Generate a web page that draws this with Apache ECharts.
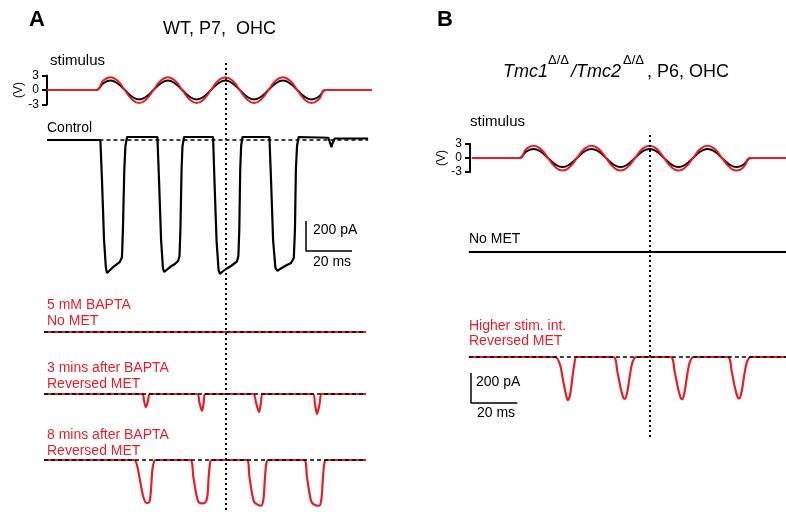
<!DOCTYPE html>
<html>
<head>
<meta charset="utf-8">
<script src="https://cdn.jsdelivr.net/npm/echarts@6/dist/echarts.min.js"></script>
<style>html,body{margin:0;padding:0;background:#fff}#c{width:786px;height:512px}</style>
</head>
<body>
<div id="c"></div>
<script>
// ---------------- DATA (time in ms, current in pA, stimulus in V) ----------------
const stimSineTime = [0,3.1,6.25,9.4,12.5,15.6,18.75,21.9,25,28.1,31.25,34.4,37.5,40.6,43.75,46.9,50,53.1,56.25,59.4,62.5,65.6,68.75,71.9,75,78.1,81.25,84.4,87.5,90.6,93.75,96.9,100];
const stimRedV   = [0,1.9,2.65,1.9,0,-1.9,-2.7,-1.9, 0,1.9,2.65,1.9,0,-1.9,-2.7,-1.9, 0,1.9,2.65,1.9,0,-1.9,-2.7,-1.9, 0,1.9,2.65,1.9,0,-1.9,-2.7,-1.9, 0];
const stimBlackV = [0,1.35,1.95,1.35,0,-1.35,-1.95,-1.35, 0,1.35,1.95,1.35,0,-1.35,-1.95,-1.35, 0,1.35,1.95,1.35,0,-1.35,-1.95,-1.35, 0,1.35,1.95,1.35,0,-1.35,-1.95,-1.35, 0];
const stimFlatA = [-21.3, 120];
const stimFlatB = [-20.3, 115.1];
const stimTicks = [-3, 0, 3];

const controlA = [
 [-21.3,0],[1.9,0],
 [2.6,-267],[3.5,-667],[4.3,-853],[4.8,-887],[5.7,-873],[7.0,-853],[8.7,-833],[10.4,-813],[11.3,-780],[11.7,-600],[12.3,-200],[12.8,-40],[13.5,20],
 [26.7,20],
 [27.4,-267],[28.3,-667],[29.1,-853],[29.6,-880],[30.4,-867],[32.2,-847],[34.3,-827],[35.7,-807],[36.3,-773],[36.7,-600],[37.2,-200],[37.6,-40],[38.3,20],
 [50.9,20],
 [51.5,-267],[52.4,-667],[53.3,-867],[53.9,-893],[54.8,-880],[56.5,-860],[58.7,-840],[61.3,-810],[61.9,-773],[62.3,-600],[62.7,-200],[63.1,-40],[63.7,20],
 [75.4,20],
 [76.1,-267],[77.0,-667],[78.0,-853],[78.9,-873],[80.0,-860],[82.2,-840],[84.8,-820],[86.0,-787],[86.5,-600],[86.9,-200],[87.4,-40],[88.1,20],
 [101.0,15],[101.8,-20],[102.3,-47],[102.9,-20],[103.8,10],
 [118.3,10]
];
const baptaNoMetA = [[-22.6,0],[117.4,0]];
const bapta3minA = [
 [-22.6,0],[20.0,0],[20.9,-47],[21.7,-87],[22.6,-47],[23.5,0],
 [43.9,0],[45.0,-60],[46.1,-113],[46.8,-60],[47.4,0],
 [68.3,0],[69.6,-60],[70.9,-120],[71.7,-60],[72.6,0],
 [94.3,0],[95.2,-67],[96.1,-133],[97.2,-67],[98.3,0],
 [117.4,0]
];
const bapta8minA = [
 [-22.6,0],[16.5,0],[17.8,-33],[19.1,-133],[20.6,-247],[22.0,-287],[23.2,-280],[23.9,-200],[24.5,-67],[25.3,-7],[26.1,0],
 [40.9,0],[42.3,-111],[43.5,-220],[44.5,-278],[46.0,-289],[47.4,-285],[48.4,-245],[49.0,-111],[49.6,-22],[50.3,0],
 [65.5,0],[66.7,-111],[67.8,-220],[68.7,-278],[70.0,-295],[71.7,-305],[72.8,-260],[73.5,-111],[74.1,-22],[74.9,0],
 [90.4,0],[91.7,-111],[92.8,-220],[93.7,-280],[95.2,-300],[97.0,-305],[98.0,-260],[98.7,-111],[99.3,-22],[100.0,0],
 [117.4,0]
];
const noMetB = [[-21.6,0],[115.1,0]];
const higherB = [
 [-21.6,0],[15.5,0],[17.7,-53],[19.1,-165],[20.3,-253],[21.0,-287],[22.0,-253],[23.0,-140],[23.8,-53],[24.9,0],
 [40.6,0],[42.4,-98],[43.8,-207],[45.0,-273],[45.7,-280],[46.7,-231],[47.8,-120],[49.0,-31],[50.7,0],
 [65.3,0],[67.1,-98],[68.5,-207],[69.7,-273],[70.4,-282],[71.4,-231],[72.5,-120],[73.7,-31],[75.4,0],
 [89.9,0],[91.7,-98],[93.1,-207],[94.3,-270],[95.0,-276],[96.0,-228],[97.1,-120],[98.3,-31],[100.0,0],
 [115.1,0]
];
const baselineControlA = [1.5, 118.3];
const baselineRedA = [-22.6, 117.4];
const baselineHigherB = [-21.6, 115.1];
const cursorTime = 56.3;
const scaleBarA = {t: 91.3, i: -740, dt: 20, di: 200};
const scaleBarB = {t: -20.7, i: -307, dt: 20, di: 200};

// ---------------- LAYOUT ----------------
const FONT = "'Liberation Sans', Arial, sans-serif";
const RED = '#ec1c24';
const PA = {x0: 96, ppm: 2.3};
const PB = {x0: 519, ppm: 2.32};
const PX_PER_PA = 30 / 200;

const grids = [], xAxes = [], yAxes = [], series = [];
function addGrid(p, left, right, top, bottom, y0, ppu, yOpt) {
  const gi = grids.length;
  grids.push({left: left, top: top, width: right - left, height: bottom - top});
  xAxes.push({type: 'value', gridIndex: gi, show: false,
    min: (left - p.x0) / p.ppm, max: (right - p.x0) / p.ppm});
  if (yOpt) {
    yAxes.push(Object.assign({type: 'value', gridIndex: gi}, yOpt));
  } else if (y0 === null) {
    yAxes.push({type: 'value', gridIndex: gi, show: false, min: 0, max: 1});
  } else {
    yAxes.push({type: 'value', gridIndex: gi, show: false,
      min: -(bottom - y0) / ppu, max: (y0 - top) / ppu});
  }
  return gi;
}
function line(gi, data, color, width, extra) {
  series.push(Object.assign({type: 'line', xAxisIndex: gi, yAxisIndex: gi, data: data,
    showSymbol: false, symbol: 'none', clip: false, silent: true,
    lineStyle: {color: color, width: width}}, extra || {}));
}
function dashed(gi, ext) {
  line(gi, [[ext[0], 0], [ext[1], 0]], '#000', 1.5, {z: 5, lineStyle: {color: '#000', width: 1.5, type: [4, 3]}});
}
function stimData(flat, vals) {
  const d = [[flat[0], 0]];
  stimSineTime.forEach((t, k) => d.push([t, vals[k]]));
  d.push([flat[1], 0]);
  return d;
}
function stimAxis() {
  return {min: stimTicks[0], max: stimTicks[2], interval: 3, position: 'left',
    axisLine: {show: true, onZero: false, lineStyle: {color: '#000', width: 2}},
    axisTick: {show: true, length: 5, lineStyle: {color: '#000', width: 2}},
    axisLabel: {show: true, color: '#000', fontSize: 12, fontFamily: FONT, margin: 8},
    splitLine: {show: false},
    name: '(V)', nameLocation: 'middle', nameRotate: 90, nameGap: 22,
    nameTextStyle: {color: '#000', fontSize: 12, fontFamily: FONT}};
}
function scaleBar(gi, s) {
  line(gi, [[s.t, s.i + s.di], [s.t, s.i], [s.t + s.dt, s.i]], '#000', 1.5);
}
function cursor(gi) {
  series.push({type: 'line', xAxisIndex: gi, yAxisIndex: gi, data: [[cursorTime, 0.5]],
    showSymbol: false, symbol: 'none', silent: true, z: 6,
    lineStyle: {width: 0},
    markLine: {silent: true, symbol: ['none', 'none'], label: {show: false},
      animation: false,
      lineStyle: {color: '#000', width: 2, type: [2, 3]},
      data: [{xAxis: cursorTime}]}});
}

// Panel A
const gStimA = addGrid(PA, 47, 376, 75.5, 104.5, 90, 29 / 6, stimAxis());
line(gStimA, stimData(stimFlatA, stimBlackV), '#000', 2, {smooth: 0.5});
line(gStimA, stimData(stimFlatA, stimRedV), RED, 2, {smooth: 0.5, z: 3});
const gCtlA = addGrid(PA, 40, 376, 120, 285, 140, PX_PER_PA);
line(gCtlA, controlA, '#000', 2.2);
dashed(gCtlA, baselineControlA);
scaleBar(gCtlA, scaleBarA);
const gB0 = addGrid(PA, 40, 376, 322, 342, 332, PX_PER_PA);
line(gB0, baptaNoMetA, RED, 2.2);
dashed(gB0, baselineRedA);
const gB3 = addGrid(PA, 40, 376, 384, 420, 394, PX_PER_PA);
line(gB3, bapta3minA, RED, 2.2, {smooth: 0.3});
dashed(gB3, baselineRedA);
const gB8 = addGrid(PA, 40, 376, 450, 512, 460, PX_PER_PA);
line(gB8, bapta8minA, RED, 2.2, {smooth: 0.3});
dashed(gB8, baselineRedA);
const gCurA = addGrid(PA, 40, 376, 62, 510, null, 1);
cursor(gCurA);

// Panel B
const gStimB = addGrid(PB, 470, 786, 144, 172, 158, 28 / 6, stimAxis());
line(gStimB, stimData(stimFlatB, stimBlackV), '#000', 2, {smooth: 0.5});
line(gStimB, stimData(stimFlatB, stimRedV), RED, 2, {smooth: 0.5, z: 3});
const gNoB = addGrid(PB, 462, 786, 242, 262, 252, PX_PER_PA);
line(gNoB, noMetB, '#000', 2.2);
const gHiB = addGrid(PB, 462, 786, 345, 420, 357, PX_PER_PA);
line(gHiB, higherB, RED, 2.2, {smooth: 0.3});
dashed(gHiB, baselineHigherB);
scaleBar(gHiB, scaleBarB);
const gCurB = addGrid(PB, 462, 786, 133, 437, null, 1);
cursor(gCurB);

// ---------------- TEXT ----------------
function txt(s, x, y, size, color, extra) {
  return {type: 'text', x: x, y: y, silent: true, z: 10,
    style: Object.assign({text: s, fill: color || '#000', fontSize: size, fontFamily: FONT,
      verticalAlign: 'middle', textVerticalAlign: 'middle', align: 'left', textAlign: 'left'}, extra || {})};
}
const graphics = [
  txt('A', 29, 20, 22, '#000', {fontWeight: 'bold'}),
  txt('WT, P7,  OHC', 163, 29, 18),
  txt('stimulus', 50, 61, 15),
  txt('Control', 47, 128, 14),
  txt('5 mM BAPTA', 47, 305, 14, RED),
  txt('No MET', 47, 321, 14, RED),
  txt('3 mins after BAPTA', 47, 368, 14, RED),
  txt('Reversed MET', 47, 384, 14, RED),
  txt('8 mins after BAPTA', 47, 435, 14, RED),
  txt('Reversed MET', 47, 451, 14, RED),
  txt('200 pA', 313, 230, 14),
  txt('20 ms', 313, 262, 14),
  txt('B', 437, 20, 22, '#000', {fontWeight: 'bold'}),
  txt('Tmc1', 503, 72, 18, '#000', {fontStyle: 'italic'}),
  txt('\u0394/\u0394', 548, 60, 13),
  txt('/Tmc2', 571, 72, 18, '#000', {fontStyle: 'italic'}),
  txt('\u0394/\u0394', 623, 60, 13),
  txt(', P6, OHC', 647, 72, 18),
  txt('stimulus', 470, 122, 15),
  txt('No MET', 469, 239, 14),
  txt('Higher stim. int.', 469, 326, 14, RED),
  txt('Reversed MET', 469, 341, 14, RED),
  txt('200 pA', 476, 382, 14),
  txt('20 ms', 477, 413, 14)
];

const chart = echarts.init(document.getElementById('c'), null, {renderer: 'canvas'});
chart.setOption({
  animation: false,
  backgroundColor: '#fff',
  grid: grids, xAxis: xAxes, yAxis: yAxes, series: series,
  graphic: graphics
});
</script>
</body>
</html>
